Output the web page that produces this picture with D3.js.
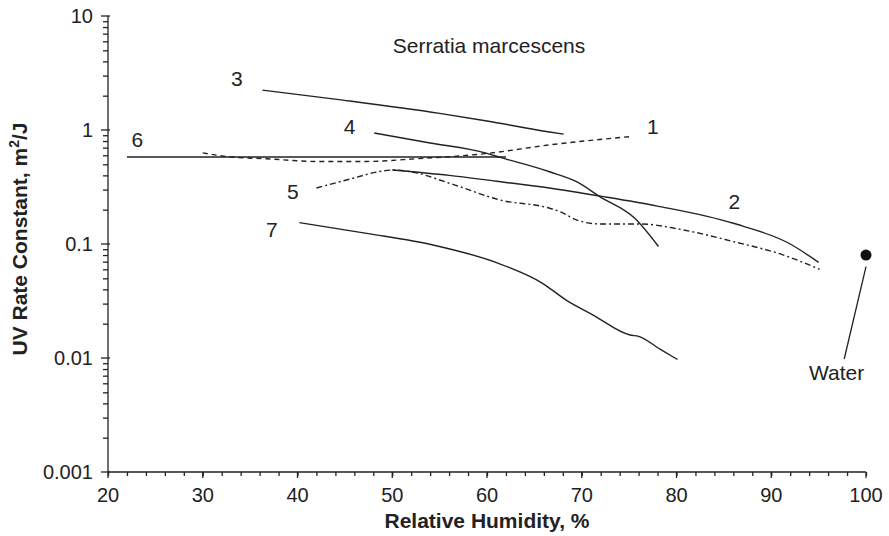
<!DOCTYPE html>
<html><head><meta charset="utf-8">
<script src="https://cdn.jsdelivr.net/npm/d3@7/dist/d3.min.js"></script>
<style>body{margin:0;background:#fff}svg{display:block}text{font-family:"Liberation Sans",Arial,sans-serif;fill:#222}</style>
</head><body><svg id="c" width="889" height="536"></svg>
<script>
// Data
const rh1=[30,33,36.7,42,47.3,52.6,59.8,66.6,75.1];
const k1=[0.63,0.58,0.56,0.53,0.53,0.56,0.62,0.74,0.875];
const rh2=[50,56,61,66.6,72,78,86,92,95];
const k2=[0.446,0.40,0.355,0.31,0.263,0.215,0.152,0.10,0.069];
const rh3=[36.3,44.8,55,60,66.6,68.1];
const k3=[2.24,1.83,1.4,1.2,0.96,0.92];
const rh4=[48.1,54,59.8,61.4,66.6,69.5,71.9,75.6,78.1];
const k4=[0.94,0.77,0.63,0.575,0.43,0.35,0.26,0.168,0.095];
const rh5=[42,46,48.5,50.1,52,56.1,61.4,66.6,67.7,69.5,71.9,76.1,80.7,86,91.3,95.1];
const k5=[0.31,0.38,0.43,0.446,0.43,0.34,0.243,0.206,0.192,0.162,0.15,0.15,0.133,0.105,0.08,0.06];
const rh6=[22,62];
const k6=[0.58,0.58];
const rh7=[40.2,47.3,54.3,61,65.9,68.4,71.2,75.1,76,78.3,80.1];
const k7=[0.154,0.124,0.098,0.0686,0.045,0.032,0.0238,0.0159,0.0155,0.0119,0.0097];
const waterRH=[100], waterK=[0.08];
const xTicks=[20,30,40,50,60,70,80,90,100];
const yTicks=[10,1,0.1,0.01,0.001];
const yTickLabels=["10","1","0.1","0.01","0.001"];
const curveNames=["1","2","3","4","5","6","7"];
const labelRH=[77.5,86.1,33.6,45.5,39.5,23.1,37.3];
const labelK=[1.084,0.238,2.86,1.084,0.292,0.834,0.1355];

const svg=d3.select("#c");
const x=d3.scaleLinear().domain([20,100]).range([108,866]);
const y=d3.scaleLog().domain([0.001,10]).range([472,16]);

// axes
const xAxis=d3.axisBottom(x).tickValues(d3.range(20,101,2)).tickSize(4).tickFormat("");
svg.append("g").attr("transform","translate(0,472)").call(xAxis)
  .call(g=>g.selectAll("line,path").attr("stroke","#222").attr("stroke-width",1.3))
  .call(g=>g.select(".domain").attr("d","M108,0H866"));
svg.append("g").attr("transform","translate(0,472)")
  .selectAll("line").data(xTicks).join("line")
  .attr("x1",d=>x(d)).attr("x2",d=>x(d)).attr("y1",0).attr("y2",6).attr("stroke","#222").attr("stroke-width",1.3);
svg.append("g").selectAll("text").data(xTicks).join("text")
  .attr("x",d=>x(d)).attr("y",502).attr("text-anchor","middle").attr("font-size",20).text(d=>d);

const minorY=[];
[0.001,0.01,0.1,1].forEach(b=>{for(let i=2;i<=9;i++)minorY.push(b*i);});
const yAxis=d3.axisLeft(y).tickValues(minorY).tickSize(5).tickFormat("");
svg.append("g").attr("transform","translate(108,0)").call(yAxis)
  .call(g=>g.selectAll("line,path").attr("stroke","#222").attr("stroke-width",1.3))
  .call(g=>g.select(".domain").attr("d","M0,16V472"));
svg.append("g").selectAll("line").data(yTicks).join("line")
  .attr("x1",101).attr("x2",110).attr("y1",d=>y(d)).attr("y2",d=>y(d)).attr("stroke","#222").attr("stroke-width",1.3);
svg.append("g").selectAll("text").data(yTicks).join("text")
  .attr("x",93).attr("y",d=>y(d)).attr("dy","0.36em").attr("text-anchor","end").attr("font-size",20)
  .text((d,i)=>yTickLabels[i]);

// axis titles
svg.append("text").attr("x",487).attr("y",528).attr("text-anchor","middle").attr("font-size",21).attr("font-weight","bold").text("Relative Humidity, %");
const yt=svg.append("text").attr("transform","translate(27,239) rotate(-90)").attr("text-anchor","middle").attr("font-size",21).attr("font-weight","bold");
yt.append("tspan").text("UV Rate Constant, m");
yt.append("tspan").attr("font-size",14).attr("dy","-0.6em").text("2");
yt.append("tspan").attr("dy","0.4em").text("/J");

svg.append("text").attr("x",489).attr("y",53).attr("text-anchor","middle").attr("font-size",21).text("Serratia marcescens");

// curves
const line=d3.line().x(d=>x(d[0])).y(d=>y(d[1])).curve(d3.curveMonotoneX);
const series=[
 [rh1,k1,"5,4"],[rh2,k2,null],[rh3,k3,null],[rh4,k4,null],[rh5,k5,"6,3,2,3"],[rh6,k6,null],[rh7,k7,null]
];
series.forEach(([xs,ks,dash])=>{
  svg.append("path").datum(xs.map((v,i)=>[v,ks[i]])).attr("d",line)
   .attr("fill","none").attr("stroke","#222").attr("stroke-width",1.4)
   .attr("stroke-dasharray",dash);
});
svg.append("g").selectAll("text").data(curveNames).join("text")
  .attr("x",(d,i)=>x(labelRH[i])).attr("y",(d,i)=>y(labelK[i])).attr("dy","0.36em")
  .attr("text-anchor","middle").attr("font-size",21).text(d=>d);

// water
svg.append("circle").attr("cx",x(waterRH[0])).attr("cy",y(waterK[0])).attr("r",5.5).attr("fill","#111");
svg.append("line").attr("x1",x(100)).attr("y1",y(0.0632)).attr("x2",x(97.7)).attr("y2",y(0.0098)).attr("stroke","#222").attr("stroke-width",1.3);
svg.append("text").attr("x",x(96.9)).attr("y",y(0.0064)).attr("text-anchor","middle").attr("font-size",21).text("Water");
</script></body></html>
